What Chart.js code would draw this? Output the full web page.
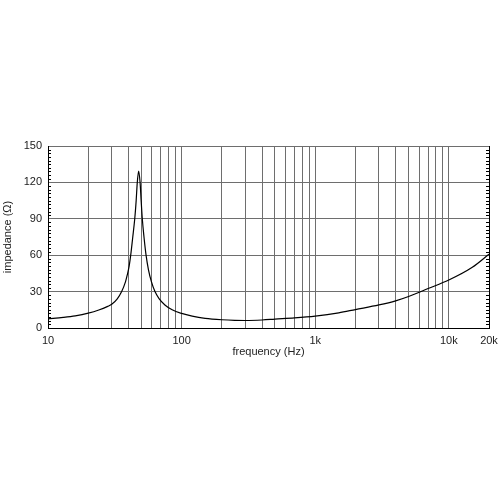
<!DOCTYPE html>
<html>
<head>
<meta charset="utf-8">
<script src="https://cdn.jsdelivr.net/npm/chart.js@4/dist/chart.umd.min.js"></script>
<style>
  html, body { margin: 0; padding: 0; background: #fff; }
  #wrap { width: 500px; height: 500px; }
</style>
</head>
<body>
<div id="wrap"><canvas id="imp-chart" width="500" height="500"></canvas></div>
<script>
// impedance curve
const freqs = [10, 13, 16, 20, 24, 28, 30, 33, 35.6, 38, 39.2, 40.5, 41.6, 43, 44.6, 45.7, 46.6, 47.7,
  48.9, 49.8, 50.8, 52.3, 54.2, 56.5, 59.5, 63.2, 68, 75, 85, 100, 120, 150, 200, 250, 300, 400,
  500, 700, 1000, 1500, 2000, 3000, 4000, 5000, 7000, 10000, 15000, 20000];
const impedance = [7.5, 8.7, 10, 12.2, 14.8, 17.8, 19.5, 24, 30, 38, 43.7, 51, 60, 74, 90, 105, 120, 129.4,
  120, 105, 90, 75, 60, 48, 38, 30, 24, 19, 15, 12, 9.8, 8, 6.8, 6.3, 6.2, 6.6,
  7.3, 8.3, 9.8, 12.5, 15.2, 19, 22.4, 26, 32.5, 39.5, 50, 60.8];

const gridFreqs = [10, 20, 30, 40, 50, 60, 70, 80, 90, 100, 200, 300, 400, 500, 600, 700, 800, 900,
  1000, 2000, 3000, 4000, 5000, 6000, 7000, 8000, 9000, 10000, 20000];
const freqLabels = { 10: "10", 100: "100", 1000: "1k", 10000: "10k", 20000: "20k" };
const impTicks = [0, 30, 60, 90, 120, 150];

const points = freqs.map((f, i) => ({ x: f, y: impedance[i] }));

// small inward ticks on left and right edges, every 3 ohm
const minorTicks = {
  id: "minorTicks",
  afterDraw(chart) {
    const ctx = chart.ctx;
    const y = chart.scales.y;
    const area = chart.chartArea;
    ctx.save();
    ctx.strokeStyle = "#000";
    ctx.lineWidth = 1;
    ctx.beginPath();
    for (let v = 0; v <= 150; v += 3) {
      if (v % 30 === 0) continue;
      const py = Math.round(y.getPixelForValue(v)) + 0.5;
      ctx.moveTo(area.left, py);
      ctx.lineTo(area.left + 3, py);
      ctx.moveTo(area.right, py);
      ctx.lineTo(area.right - 3, py);
    }
    ctx.stroke();
    ctx.restore();
  },
};

const font = { family: "'Liberation Sans', Arial, sans-serif", size: 11 };

new Chart(document.getElementById("imp-chart"), {
  type: "line",
  data: {
    datasets: [
      {
        data: points,
        borderColor: "#000",
        borderWidth: 1.2,
        pointRadius: 0,
        fill: false,
        cubicInterpolationMode: "monotone",
      },
    ],
  },
  options: {
    responsive: false,
    animation: false,
    layout: { padding: { left: 0, right: 11, top: 146, bottom: 137 } },
    plugins: { legend: { display: false }, tooltip: { enabled: false } },
    scales: {
      x: {
        type: "logarithmic",
        min: 10,
        max: 20000,
        afterBuildTicks(scale) {
          scale.ticks = gridFreqs.map((v) => ({ value: v }));
        },
        afterFit(scale) {
          scale.height = 35;
          scale.paddingLeft = 0;
          scale.paddingRight = 0;
        },
        ticks: {
          autoSkip: false,
          maxRotation: 0,
          padding: 6,
          color: "#222",
          font: font,
          callback: (v) => freqLabels[v] || "",
        },
        grid: { color: "#6e6e6e", lineWidth: 1, tickLength: 0 },
        border: { color: "#000", width: 1 },
        title: { display: true, text: "frequency (Hz)", color: "#222", font: font, padding: 4 },
      },
      y: {
        min: 0,
        max: 150,
        afterBuildTicks(scale) {
          scale.ticks = impTicks.map((v) => ({ value: v }));
        },
        afterFit(scale) {
          scale.width = 48;
        },
        ticks: { padding: 6, color: "#222", font: font },
        grid: { color: "#6e6e6e", lineWidth: 1, tickLength: 0 },
        border: { color: "#000", width: 1 },
        title: { display: true, text: "impedance (Ω)", color: "#222", font: font, padding: 1 },
      },
      y2: {
        position: "right",
        min: 0,
        max: 150,
        ticks: { display: false },
        grid: { drawOnChartArea: false, tickLength: 0 },
        border: { color: "#000", width: 1 },
        afterFit(scale) {
          scale.width = 0;
        },
      },
    },
  },
  plugins: [minorTicks],
});
</script>
</body>
</html>
